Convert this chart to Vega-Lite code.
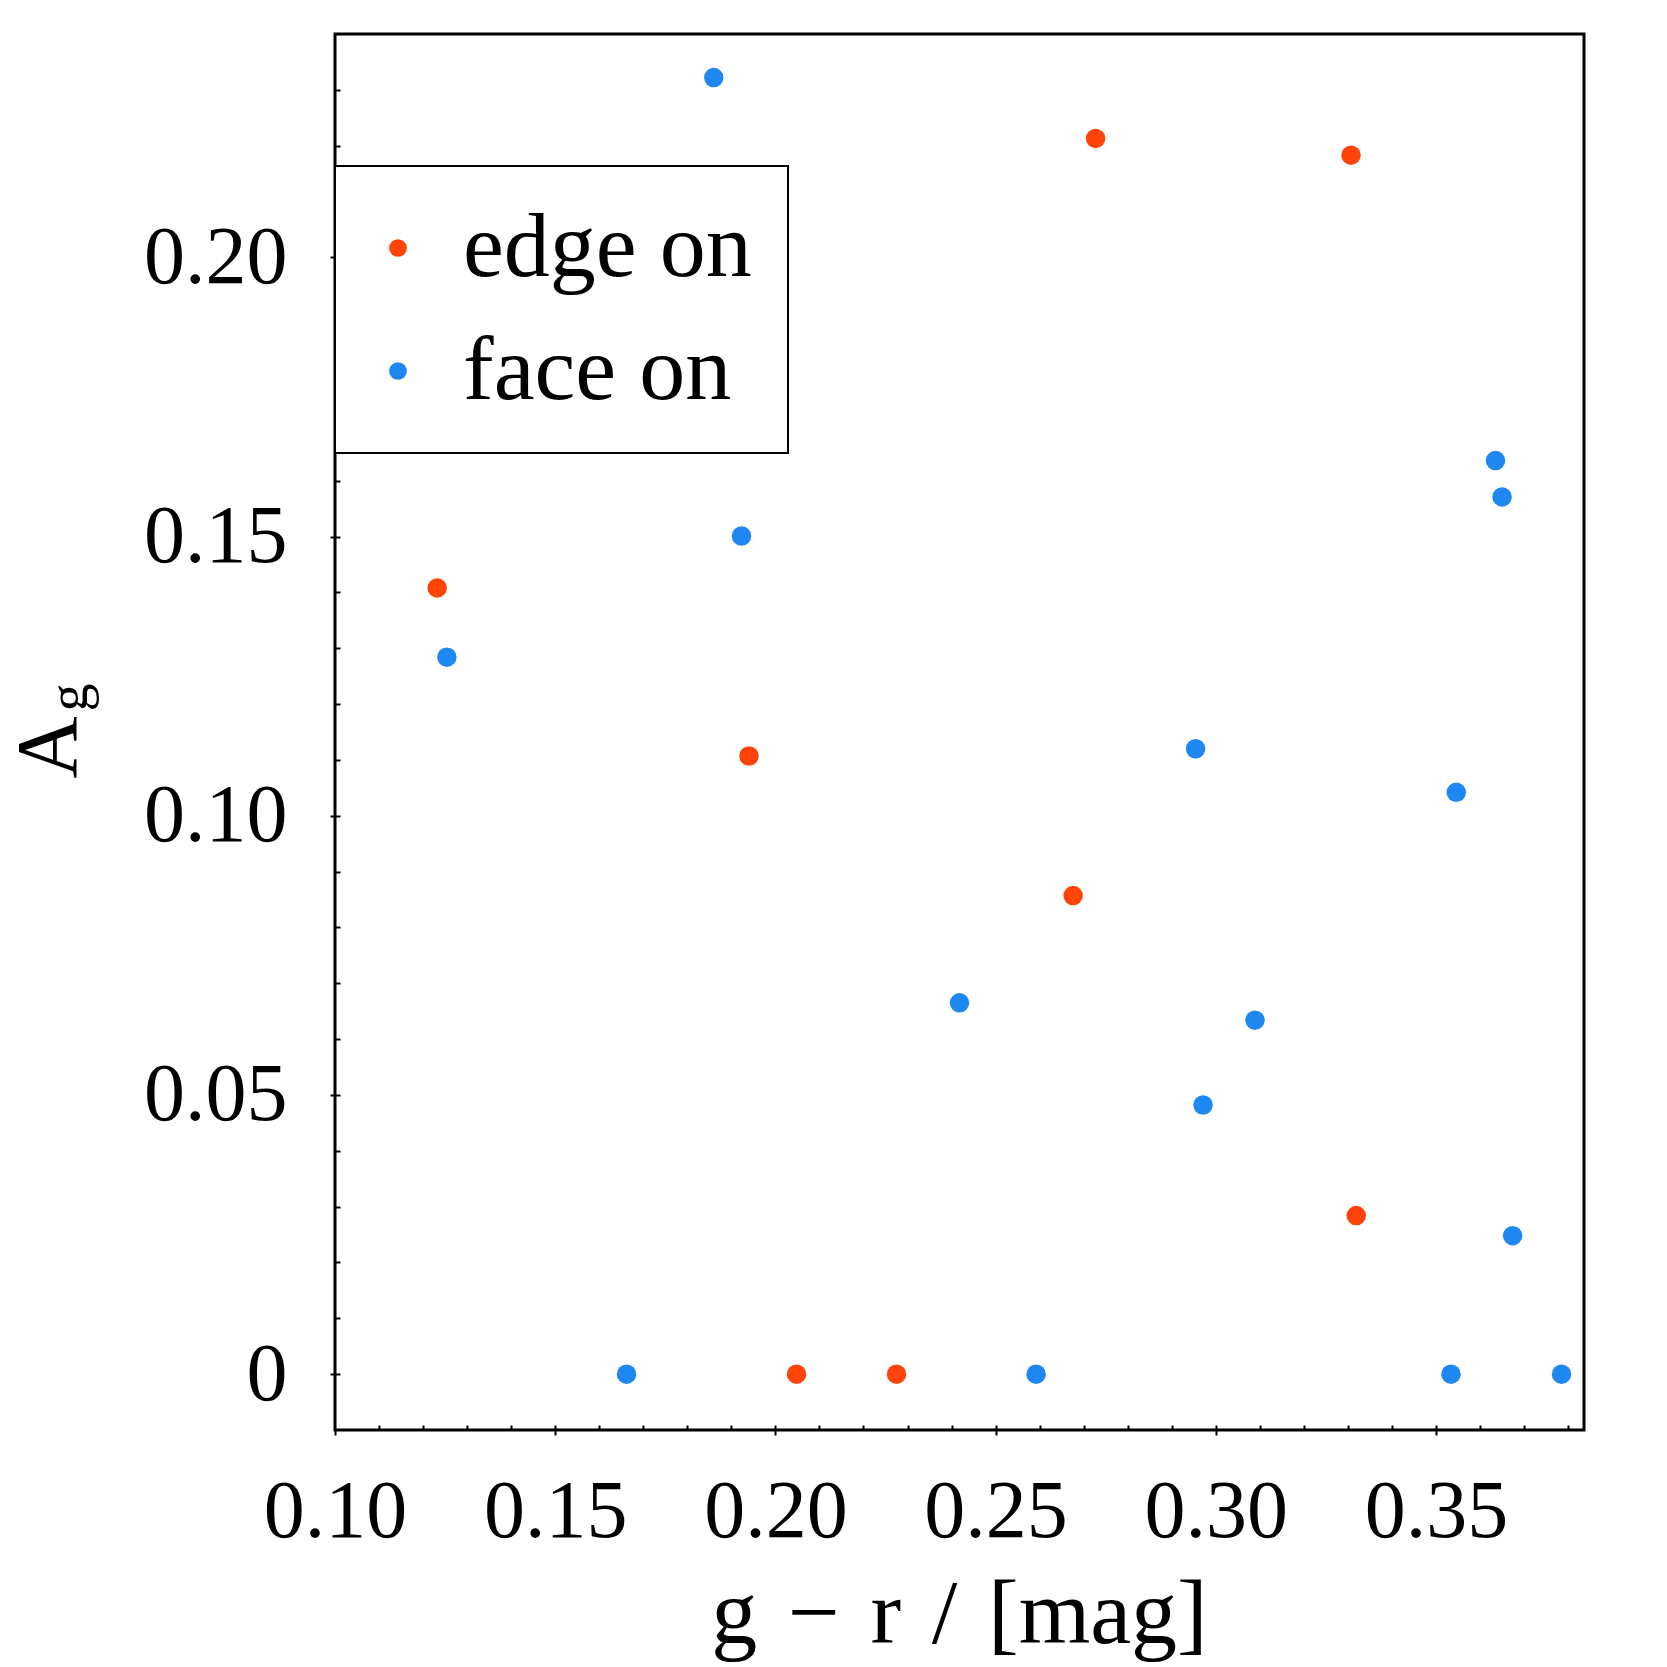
{
  "$schema": "https://vega.github.io/schema/vega-lite/v6.json",
  "width": 1249,
  "height": 1396,
  "autosize": {"type": "none"},
  "padding": {"left": 335, "top": 34, "right": 83, "bottom": 237},
  "background": "white",
  "config": {
    "font": "Liberation Serif",
    "view": {"stroke": "black", "strokeWidth": 3},
    "legend": {"strokeColor": "black", "fillColor": "white"}
  },
  "data": {
    "values": [
      {"gr": 0.1860, "Ag": 0.2322, "orientation": "face on"},
      {"gr": 0.1923, "Ag": 0.1501, "orientation": "face on"},
      {"gr": 0.1254, "Ag": 0.1284, "orientation": "face on"},
      {"gr": 0.3635, "Ag": 0.1636, "orientation": "face on"},
      {"gr": 0.3650, "Ag": 0.1571, "orientation": "face on"},
      {"gr": 0.2954, "Ag": 0.1120, "orientation": "face on"},
      {"gr": 0.3546, "Ag": 0.1042, "orientation": "face on"},
      {"gr": 0.2418, "Ag": 0.0665, "orientation": "face on"},
      {"gr": 0.3089, "Ag": 0.0634, "orientation": "face on"},
      {"gr": 0.2971, "Ag": 0.0482, "orientation": "face on"},
      {"gr": 0.3674, "Ag": 0.0248, "orientation": "face on"},
      {"gr": 0.1662, "Ag": 0.0, "orientation": "face on"},
      {"gr": 0.2592, "Ag": 0.0, "orientation": "face on"},
      {"gr": 0.3534, "Ag": 0.0, "orientation": "face on"},
      {"gr": 0.3785, "Ag": 0.0, "orientation": "face on"},
      {"gr": 0.2727, "Ag": 0.2213, "orientation": "edge on"},
      {"gr": 0.3307, "Ag": 0.2183, "orientation": "edge on"},
      {"gr": 0.1232, "Ag": 0.1408, "orientation": "edge on"},
      {"gr": 0.1940, "Ag": 0.1107, "orientation": "edge on"},
      {"gr": 0.2676, "Ag": 0.0857, "orientation": "edge on"},
      {"gr": 0.3319, "Ag": 0.0284, "orientation": "edge on"},
      {"gr": 0.2048, "Ag": 0.0, "orientation": "edge on"},
      {"gr": 0.2275, "Ag": 0.0, "orientation": "edge on"}
    ]
  },
  "layer": [
    {
      "mark": {"type": "point", "filled": true, "opacity": 1, "size": 380},
      "encoding": {
        "x": {
          "field": "gr",
          "type": "quantitative",
          "scale": {"domain": [0.1, 0.3836], "nice": false, "zero": false},
          "axis": {
            "orient": "bottom",
            "values": [0.1, 0.15, 0.2, 0.25, 0.3, 0.35],
            "format": ".2f",
            "grid": false,
            "domain": false,
            "labelFlush": false,
            "labelOverlap": false,
            "labelFontSize": 82,
            "labelColor": "black",
            "labelPadding": 36,
            "tickSize": 5,
            "tickWidth": 2,
            "tickColor": "black",
            "title": "g\u2004−\u2004r\u2004/\u2004[mag]",
            "titleFontSize": 92,
            "titleFontWeight": "normal",
            "titleColor": "black",
            "titleX": 624,
            "titleY": 212,
            "titleAlign": "center",
            "titleBaseline": "alphabetic"
          }
        },
        "y": {
          "field": "Ag",
          "type": "quantitative",
          "scale": {"domain": [-0.01, 0.24], "nice": false, "zero": false},
          "axis": {
            "orient": "left",
            "values": [0, 0.05, 0.1, 0.15, 0.2],
            "labelExpr": "datum.value == 0 ? '0' : format(datum.value, '.2f')",
            "grid": false,
            "domain": false,
            "labelFlush": false,
            "labelOverlap": false,
            "labelFontSize": 82,
            "labelColor": "black",
            "labelPadding": 43,
            "tickSize": 5,
            "tickWidth": 2,
            "tickColor": "black",
            "title": "A",
            "titleFontSize": 86,
            "titleFontWeight": "normal",
            "titleColor": "black",
            "titleAngle": -90,
            "titleX": -260,
            "titleY": 713,
            "titleAlign": "center",
            "titleBaseline": "alphabetic"
          }
        },
        "color": {
          "field": "orientation",
          "type": "nominal",
          "scale": {"domain": ["edge on", "face on"], "range": ["#ff4409", "#1f87f2"]},
          "legend": {
            "title": null,
            "orient": "none",
            "legendX": 0,
            "legendY": 132,
            "padding": 36,
            "symbolType": "circle",
            "symbolSize": 314,
            "symbolOffset": -19,
            "symbolOpacity": 1,
            "labelOffset": 19,
            "labelFontSize": 92,
            "labelColor": "black",
            "labelLimit": 600,
            "rowPadding": 31,
            "encode": {
              "legend": {"update": {"strokeWidth": {"value": 2}}}
            }
          }
        }
      }
    },
    {
      "mark": {"type": "point", "opacity": 0},
      "encoding": {
        "x": {
          "field": "gr",
          "type": "quantitative",
          "axis": {
            "orient": "bottom",
            "values": [0.11, 0.12, 0.13, 0.14, 0.15, 0.16, 0.17, 0.18, 0.19, 0.2, 0.21, 0.22, 0.23, 0.24, 0.25, 0.26, 0.27, 0.28, 0.29, 0.3, 0.31, 0.32, 0.33, 0.34, 0.35, 0.36, 0.37, 0.38],
            "labels": false,
            "grid": false,
            "domain": false,
            "tickSize": -5,
            "tickWidth": 2,
            "tickColor": "black",
            "title": null
          }
        },
        "y": {
          "field": "Ag",
          "type": "quantitative",
          "axis": {
            "orient": "left",
            "values": [0, 0.01, 0.02, 0.03, 0.04, 0.05, 0.06, 0.07, 0.08, 0.09, 0.1, 0.11, 0.12, 0.13, 0.14, 0.15, 0.16, 0.17, 0.18, 0.19, 0.2, 0.21, 0.22, 0.23],
            "labels": false,
            "grid": false,
            "domain": false,
            "tickSize": -5,
            "tickWidth": 2,
            "tickColor": "black",
            "title": "g",
            "titleFontSize": 56,
            "titleFontWeight": "normal",
            "titleColor": "black",
            "titleAngle": -90,
            "titleX": -249,
            "titleY": 663,
            "titleAlign": "center",
            "titleBaseline": "alphabetic"
          }
        }
      }
    }
  ],
  "resolve": {"axis": {"x": "independent", "y": "independent"}}
}
